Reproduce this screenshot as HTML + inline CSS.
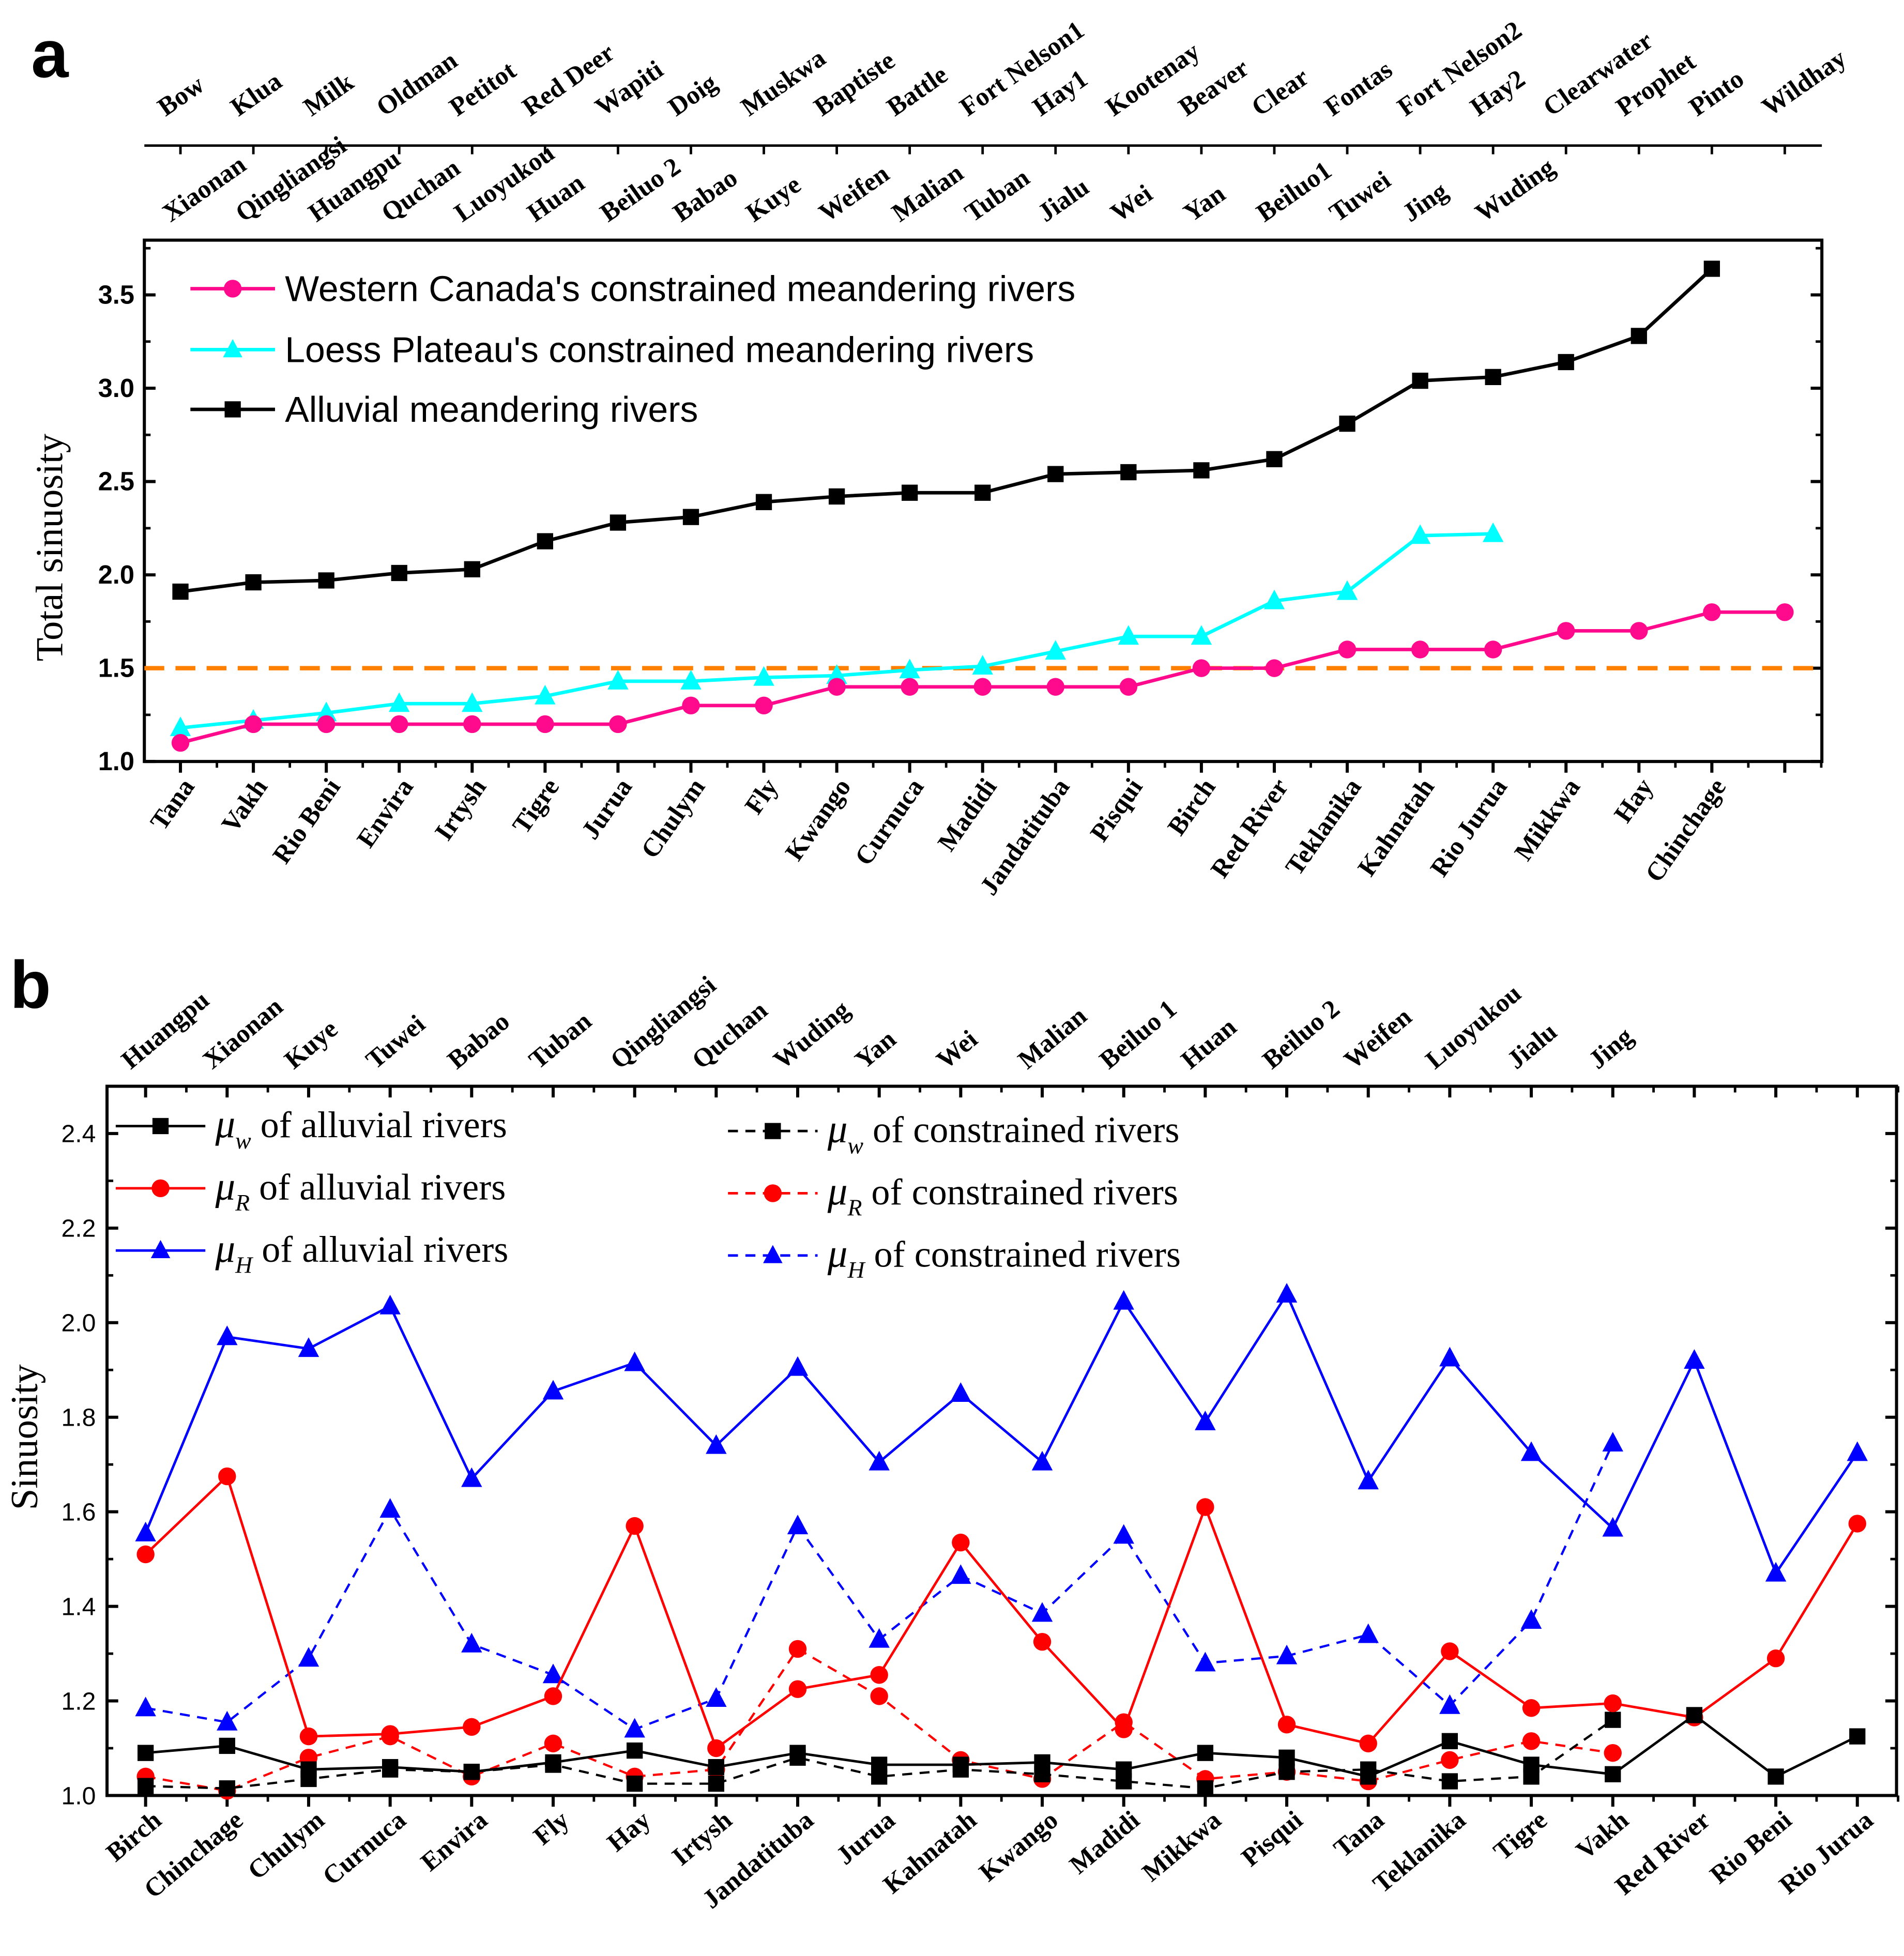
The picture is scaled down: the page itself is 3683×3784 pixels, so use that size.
<!DOCTYPE html>
<html><head><meta charset="utf-8"><style>
html,body{margin:0;padding:0;background:#fff}
svg{display:block}
.cat{font-family:"Liberation Serif",serif;font-weight:bold;font-size:21px}
.tick{font-family:"Liberation Sans",sans-serif;font-weight:bold;font-size:21px}
.lega{font-family:"Liberation Sans",sans-serif;font-size:29px}
.legb{font-family:"Liberation Serif",serif;font-size:30px}
</style></head><body>
<svg id="chart" width="3683" height="3784" viewBox="0 0 1530 1572" preserveAspectRatio="none" xmlns="http://www.w3.org/2000/svg">
<g id="pa"></g>
<g id="pb"></g>
</svg>
<script>
const aBottomCats=["Tana","Vakh","Rio Beni","Envira","Irtysh","Tigre","Jurua","Chulym","Fly","Kwango","Curnuca","Madidi","Jandatituba","Pisqui","Birch","Red River","Teklanika","Kahnatah","Rio Jurua","Mikkwa","Hay","Chinchage"];
const aTopCats1=["Bow","Klua","Milk","Oldman","Petitot","Red Deer","Wapiti","Doig","Muskwa","Baptiste","Battle","Fort Nelson1","Hay1","Kootenay","Beaver","Clear","Fontas","Fort Nelson2","Hay2","Clearwater","Prophet","Pinto","Wildhay"];
const aTopCats2=["Xiaonan","Qingliangsi","Huangpu","Quchan","Luoyukou","Huan","Beiluo 2","Babao","Kuye","Weifen","Malian","Tuban","Jialu","Wei","Yan","Beiluo1","Tuwei","Jing","Wuding"];
const alluvialA=[1.91,1.96,1.97,2.01,2.03,2.18,2.28,2.31,2.39,2.42,2.44,2.44,2.54,2.55,2.56,2.62,2.81,3.04,3.06,3.14,3.28,3.64];
const canadaA=[1.1,1.2,1.2,1.2,1.2,1.2,1.2,1.3,1.3,1.4,1.4,1.4,1.4,1.4,1.5,1.5,1.6,1.6,1.6,1.7,1.7,1.8,1.8];
const loessA=[1.18,1.22,1.26,1.31,1.31,1.35,1.43,1.43,1.45,1.46,1.49,1.51,1.59,1.67,1.67,1.86,1.91,2.21,2.22];
const aYTicks=[1.0,1.5,2.0,2.5,3.0,3.5];
const aYTickLabels=["1.0","1.5","2.0","2.5","3.0","3.5"];
const threshold=1.5;

const bBottomCats=["Birch","Chinchage","Chulym","Curnuca","Envira","Fly","Hay","Irtysh","Jandatituba","Jurua","Kahnatah","Kwango","Madidi","Mikkwa","Pisqui","Tana","Teklanika","Tigre","Vakh","Red River","Rio Beni","Rio Jurua"];
const bTopCats=["Huangpu","Xiaonan","Kuye","Tuwei","Babao","Tuban","Qingliangsi","Quchan","Wuding","Yan","Wei","Malian","Beiluo 1","Huan","Beiluo 2","Weifen","Luoyukou","Jialu","Jing"];
const muWAll=[1.09,1.105,1.055,1.06,1.05,1.07,1.095,1.06,1.09,1.065,1.065,1.07,1.055,1.09,1.08,1.04,1.115,1.065,1.045,1.17,1.04,1.125];
const muRAll=[1.51,1.675,1.125,1.13,1.145,1.21,1.57,1.10,1.225,1.255,1.535,1.325,1.14,1.61,1.15,1.11,1.305,1.185,1.195,1.165,1.29,1.575];
const muHAll=[1.555,1.97,1.945,2.035,1.67,1.855,1.915,1.74,1.905,1.705,1.85,1.705,2.045,1.79,2.06,1.665,1.925,1.725,1.565,1.92,1.47,1.725];
const muWCon=[1.02,1.015,1.035,1.055,1.05,1.065,1.025,1.025,1.08,1.04,1.055,1.045,1.03,1.015,1.05,1.055,1.03,1.04,1.16];
const muRCon=[1.04,1.01,1.08,1.125,1.04,1.11,1.04,1.055,1.31,1.21,1.075,1.035,1.155,1.035,1.05,1.03,1.075,1.115,1.09];
const muHCon=[1.185,1.155,1.29,1.605,1.32,1.255,1.14,1.205,1.57,1.33,1.465,1.385,1.55,1.28,1.295,1.34,1.19,1.37,1.745];
const bYTicks=[1.0,1.2,1.4,1.6,1.8,2.0,2.2,2.4];
const bYTickLabels=["1.0","1.2","1.4","1.6","1.8","2.0","2.2","2.4"];

const NS="http://www.w3.org/2000/svg";
function mk(parent,tag,attrs,text){const e=document.createElementNS(NS,tag);for(const k in attrs)e.setAttribute(k,attrs[k]);if(text!==undefined)e.textContent=text;parent.appendChild(e);return e;}

function marker(g,shape,x,y,color,s){
  let m;
  if(shape==="sq"){m=mk(g,"rect",{x:x-s,y:y-s,width:2*s,height:2*s,fill:color});}
  else if(shape==="ci"){m=mk(g,"circle",{cx:x,cy:y,r:s*1.1,fill:color});}
  else {m=mk(g,"polygon",{points:`${x},${y-s*1.3} ${x-s*1.2},${y+s*0.95} ${x+s*1.2},${y+s*0.95}`,fill:color});}
  
  
}
function series(g,name,vals,xf,yf,color,shape,s,dash,w){
  const sg=mk(g,"g",{});
  
  
  const pts=vals.map((v,i)=>xf(i)+","+yf(v)).join(" ");
  const pl=mk(sg,"polyline",{points:pts,fill:"none",stroke:color,"stroke-width":w,"stroke-dasharray":dash||"none"});
  
  
  vals.forEach((v,i)=>marker(sg,shape,xf(i),yf(v),color,s));
}

/* ---------- Panel A ---------- */
(function(){
  const g=document.getElementById("pa");
  const L=116,R=1464,T=193,B=612;
  const x0=145,dx=58.6;
  const xf=i=>x0+dx*i;
  const yf=v=>B-(v-1.0)*150;
  const t=mk(g,"text",{x:25,y:62,"font-family":"Liberation Sans,sans-serif","font-weight":"bold","font-size":54},"a");
  
  const box=mk(g,"rect",{x:L,y:T,width:R-L,height:B-T,fill:"none",stroke:"#000","stroke-width":2.5});
  
  aYTicks.forEach((v,i)=>{
    mk(g,"line",{x1:L,x2:L+9,y1:yf(v),y2:yf(v),stroke:"#000","stroke-width":2.5});
    mk(g,"line",{x1:R,x2:R-9,y1:yf(v),y2:yf(v),stroke:"#000","stroke-width":2.5});
    mk(g,"line",{x1:L,x2:L+5,y1:yf(v+0.25),y2:yf(v+0.25),stroke:"#000","stroke-width":2});
    mk(g,"line",{x1:R,x2:R-5,y1:yf(v+0.25),y2:yf(v+0.25),stroke:"#000","stroke-width":2});
    const tl=mk(g,"text",{x:L-8,y:yf(v)+7,"text-anchor":"end",class:"tick"},aYTickLabels[i]);
    
  });
  const yt=mk(g,"text",{x:0,y:0,transform:`translate(50,440) rotate(-90)`,"text-anchor":"middle","font-family":"Liberation Serif,serif","font-size":31},"Total sinuosity");
  
  for(let i=0;i<23;i++){
    mk(g,"line",{x1:xf(i),x2:xf(i),y1:B,y2:B+9,stroke:"#000","stroke-width":2.5});
    mk(g,"line",{x1:xf(i)+dx/2,x2:xf(i)+dx/2,y1:B,y2:B+5,stroke:"#000","stroke-width":2});
  }
  aBottomCats.forEach((c,i)=>{
    const tl=mk(g,"text",{x:0,y:0,transform:`translate(${xf(i)+12},${B+20}) rotate(-55)`,"text-anchor":"end",class:"cat"},c);
    
  });
  const ta=mk(g,"line",{x1:L,x2:R,y1:117,y2:117,stroke:"#000","stroke-width":2});
  
  for(let i=0;i<23;i++){
    mk(g,"line",{x1:xf(i),x2:xf(i),y1:117,y2:124,stroke:"#000","stroke-width":2});
  }
  aTopCats1.forEach((c,i)=>{
    const tl=mk(g,"text",{x:0,y:0,transform:`translate(${xf(i)-12},${94}) rotate(-35)`,class:"cat"},c);
    
  });
  aTopCats2.forEach((c,i)=>{
    const tl=mk(g,"text",{x:0,y:0,transform:`translate(${xf(i)-8},${179}) rotate(-35)`,class:"cat"},c);
    
  });
  const th=mk(g,"line",{x1:L,x2:R,y1:yf(threshold),y2:yf(threshold),stroke:"#ff8000","stroke-width":3.5,"stroke-dasharray":"16,9"});
  
  series(g,"series-alluvial",alluvialA,xf,yf,"#000","sq",6.5,null,2.8);
  series(g,"series-loess",loessA,xf,yf,"#00ffff","tr",7,null,2.8);
  series(g,"series-canada",canadaA,xf,yf,"#ff0a8c","ci",6.5,null,2.8);
  const lg=mk(g,"g",{});
  
  const items=[["Western Canada's constrained meandering rivers","#ff0a8c","ci",232],["Loess Plateau's constrained meandering rivers","#00ffff","tr",281],["Alluvial meandering rivers","#000","sq",329]];
  items.forEach(it=>{
    const e=mk(lg,"g",{});
    
    mk(e,"line",{x1:153,x2:221,y1:it[3],y2:it[3],stroke:it[1],"stroke-width":2.8});
    marker(e,it[2],187,it[3],it[1],6.5);
    mk(e,"text",{x:229,y:it[3]+10,class:"lega"},it[0]);
  });
})();

/* ---------- Panel B ---------- */
(function(){
  const g=document.getElementById("pb");
  const L=86,R=1524,T=873,B=1443;
  const x0=117,dx=65.5;
  const xf=i=>x0+dx*i;
  const yf=v=>B-(v-1.0)*380;
  const t=mk(g,"text",{x:8,y:810,"font-family":"Liberation Sans,sans-serif","font-weight":"bold","font-size":54},"b");
  
  const box=mk(g,"rect",{x:L,y:T,width:R-L,height:B-T,fill:"none",stroke:"#000","stroke-width":2.5});
  
  bYTicks.forEach((v,i)=>{
    mk(g,"line",{x1:L,x2:L+9,y1:yf(v),y2:yf(v),stroke:"#000","stroke-width":2.5});
    mk(g,"line",{x1:R,x2:R-9,y1:yf(v),y2:yf(v),stroke:"#000","stroke-width":2.5});
    mk(g,"line",{x1:L,x2:L+5,y1:yf(v+0.1),y2:yf(v+0.1),stroke:"#000","stroke-width":2});
    mk(g,"line",{x1:R,x2:R-5,y1:yf(v+0.1),y2:yf(v+0.1),stroke:"#000","stroke-width":2});
    const tl=mk(g,"text",{x:L-9,y:yf(v)+7,"text-anchor":"end","font-family":"Liberation Sans,sans-serif","font-size":20},bYTickLabels[i]);
    
  });
  const yt=mk(g,"text",{x:0,y:0,transform:`translate(30,1155) rotate(-90)`,"text-anchor":"middle","font-family":"Liberation Serif,serif","font-size":31},"Sinuosity");
  
  for(let i=0;i<22;i++){
    mk(g,"line",{x1:xf(i),x2:xf(i),y1:B,y2:B+9,stroke:"#000","stroke-width":2.5});
    mk(g,"line",{x1:xf(i)+dx/2,x2:xf(i)+dx/2,y1:B,y2:B+5,stroke:"#000","stroke-width":2});
    mk(g,"line",{x1:xf(i),x2:xf(i),y1:T,y2:T+9,stroke:"#000","stroke-width":2.5});
    mk(g,"line",{x1:xf(i)+dx/2,x2:xf(i)+dx/2,y1:T,y2:T+5,stroke:"#000","stroke-width":2});
  }
  bBottomCats.forEach((c,i)=>{
    const tl=mk(g,"text",{x:0,y:0,transform:`translate(${xf(i)+14},${B+22}) rotate(-40)`,"text-anchor":"end",class:"cat","font-size":22},c);
    
  });
  bTopCats.forEach((c,i)=>{
    const tl=mk(g,"text",{x:0,y:0,transform:`translate(${xf(i)-12},${860}) rotate(-40)`,class:"cat","font-size":22},c);
    
  });
  series(g,"series-muH-constrained",muHCon,xf,yf,"#0000ff","tr",7,"8,6",1.8);
  series(g,"series-muR-constrained",muRCon,xf,yf,"#ff0000","ci",6.5,"8,6",1.8);
  series(g,"series-muW-constrained",muWCon,xf,yf,"#000","sq",6.5,"8,6",1.8);
  series(g,"series-muH-alluvial",muHAll,xf,yf,"#0000ff","tr",7,null,2);
  series(g,"series-muR-alluvial",muRAll,xf,yf,"#ff0000","ci",6.5,null,2);
  series(g,"series-muW-alluvial",muWAll,xf,yf,"#000","sq",6.5,null,2);
  const lg=mk(g,"g",{});
  
  const items=[
    [93,905,"w","of alluvial rivers","#000","sq",null],
    [93,955,"R","of alluvial rivers","#ff0000","ci",null],
    [93,1005,"H","of alluvial rivers","#0000ff","tr",null],
    [585,909,"w","of constrained rivers","#000","sq","8,6"],
    [585,959,"R","of constrained rivers","#ff0000","ci","8,6"],
    [585,1009,"H","of constrained rivers","#0000ff","tr","8,6"]];
  items.forEach(it=>{
    const e=mk(lg,"g",{});
    
    mk(e,"line",{x1:it[0],x2:it[0]+72,y1:it[1],y2:it[1],stroke:it[4],"stroke-width":2,"stroke-dasharray":it[6]||"none"});
    marker(e,it[5],it[0]+36,it[1],it[4],6.5);
    const tx=mk(e,"text",{x:it[0]+80,y:it[1]+9,class:"legb"});
    mk(tx,"tspan",{"font-style":"italic","font-size":32},"μ");
    mk(tx,"tspan",{"font-style":"italic","font-size":19,dy:9},it[2]);
    mk(tx,"tspan",{dy:-9},"\u00a0"+it[3]);
  });
})();
</script>
</body></html>
